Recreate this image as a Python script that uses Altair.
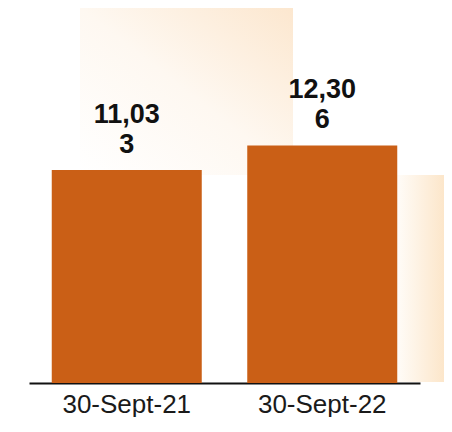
import altair as alt
import pandas as pd

categories = ["30-Sept-21", "30-Sept-22"]
values = [11033, 12306]
labels = ["11,03\n3", "12,30\n6"]

df = pd.DataFrame({"cat": categories, "val": values, "lab": labels})

BAR = "#CA5F16"
W, H = 391, 375

xenc = alt.X("cat:N", sort=categories, title=None,
             scale=alt.Scale(paddingInner=0.2, paddingOuter=0.1),
             axis=alt.Axis(labelAngle=0, labelFont="Liberation Sans", labelFontSize=26,
                           labelColor="#1a1a1a", ticks=False, labelPadding=8,
                           domainColor="#111111", domainWidth=2))
yenc = alt.Y("val:Q", scale=alt.Scale(domain=[0, 19424]), axis=None)

grad1 = alt.Gradient(gradient="linear", x1=0, y1=1, x2=1, y2=0,
                     stops=[alt.GradientStop(offset=0, color="#FFFFFF"),
                            alt.GradientStop(offset=0.5, color="#FEF8F1"),
                            alt.GradientStop(offset=1, color="#FCE7CF")])
grad2 = alt.Gradient(gradient="linear", x1=0, y1=0, x2=1, y2=0,
                     stops=[alt.GradientStop(offset=0, color="#FFFCF8"),
                            alt.GradientStop(offset=1, color="#FCE6CA")])

bg1 = alt.Chart(df).mark_rect(fill=grad1).encode(
    x=alt.value(51), x2=alt.value(264), y=alt.value(0), y2=alt.value(167))
bg2 = alt.Chart(df).mark_rect(fill=grad2).encode(
    x=alt.value(368), x2=alt.value(415), y=alt.value(167), y2=alt.value(374))

bars = alt.Chart(df).mark_bar(color=BAR, size=150).encode(x=xenc, y=yenc)
text = alt.Chart(df).mark_text(
    font="Liberation Sans", fontSize=27, fontWeight="bold", color="#111111",
    baseline="bottom", lineBreak="\n", lineHeight=30, dy=-41
).encode(x=xenc, y=yenc, text="lab:N")

chart = alt.layer(bg1, bg2, bars, text).properties(
    width=W, height=H, padding={"left": 21, "top": 0, "right": 0, "bottom": 0}
).configure_view(stroke=None)

chart.save("out.html", embed_options={"renderer": "svg", "actions": False})
